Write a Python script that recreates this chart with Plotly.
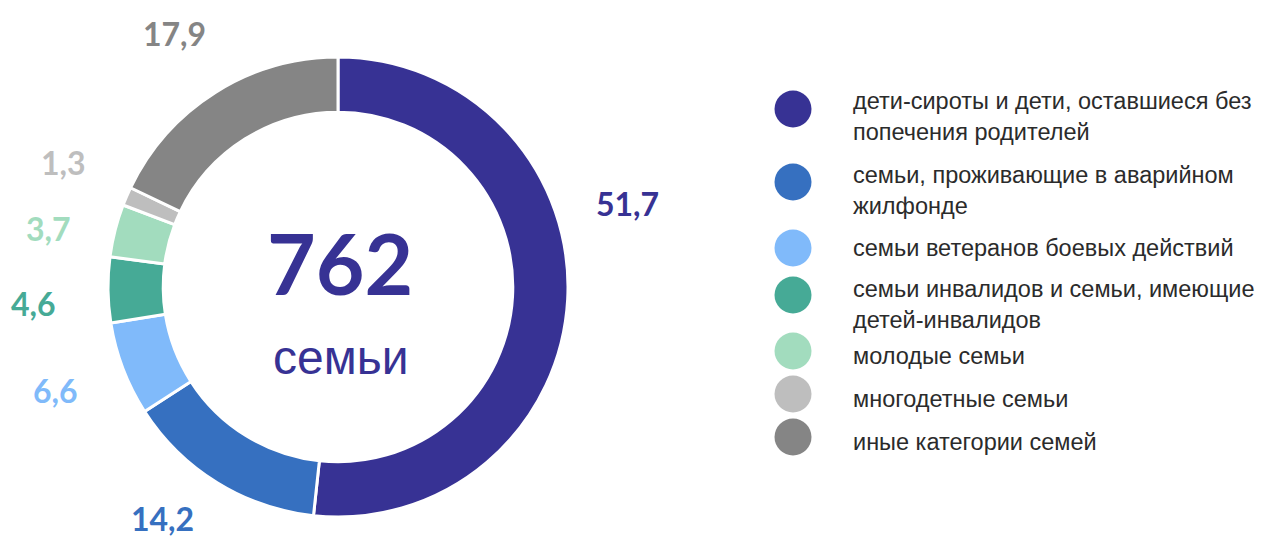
import plotly.graph_objects as go

W, H = 1264, 541

categories = [
    "дети-сироты и дети, оставшиеся без<br>попечения родителей",
    "семьи, проживающие в аварийном<br>жилфонде",
    "семьи ветеранов боевых действий",
    "семьи инвалидов и семьи, имеющие<br>детей-инвалидов",
    "молодые семьи",
    "многодетные семьи",
    "иные категории семей",
]
shares = [51.7, 14.2, 6.6, 4.6, 3.7, 1.3, 17.9]
total_families = 762
center_unit = "семьи"

colors = ["#373294", "#3670C0", "#80BAFA", "#46AA96", "#A2DCBE", "#BEBEBE", "#858585"]

# label positions (pixels) for value labels
label_pos = [(627, 203), (162, 518), (55, 390), (33, 303), (48, 228), (63, 162), (174, 33)]
# legend rows: circle center y, text center y
legend_circle_y = [109, 182, 248, 295, 351, 394, 437]
legend_text_y = [117, 190, 248, 304, 356, 399, 442]
legend_circle_x = 793
legend_text_x = 851
circle_d = 37


def px(x):
    return x / W


def py(y):
    return 1 - y / H


fig = go.Figure()
fig.add_trace(go.Pie(
    labels=[c.replace("<br>", " ") for c in categories],
    values=shares,
    sort=False,
    direction="clockwise",
    rotation=0,
    hole=0.76,
    marker=dict(colors=colors, line=dict(color="white", width=3)),
    textinfo="none",
    hoverinfo="label+value",
    showlegend=False,
    domain=dict(x=[px(108), px(568)], y=[py(517), py(57)]),
))

annotations = []
for v, c, (x, y) in zip(shares, colors, label_pos):
    annotations.append(dict(
        x=px(x), y=py(y), xref="paper", yref="paper", showarrow=False,
        text=f"<b>{v:.1f}</b>".replace(".", ","),
        font=dict(family="Lato", size=32, color=c),
        xanchor="center", yanchor="middle", borderpad=0,
    ))

annotations.append(dict(
    x=px(340), y=py(263), xref="paper", yref="paper", showarrow=False,
    text=f"<b>{total_families}</b>",
    font=dict(family="Lato", size=84, color="#373294"),
    xanchor="center", yanchor="middle",
))
annotations.append(dict(
    x=px(341), y=py(357), xref="paper", yref="paper", showarrow=False,
    text=center_unit,
    font=dict(family="Liberation Sans", size=48, color="#373294"),
    xanchor="center", yanchor="middle",
))

shapes = []
for cat, c, cy, ty in zip(categories, colors, legend_circle_y, legend_text_y):
    r = circle_d / 2
    shapes.append(dict(
        type="circle", xref="paper", yref="paper",
        x0=px(legend_circle_x - r), x1=px(legend_circle_x + r),
        y0=py(cy + r), y1=py(cy - r),
        fillcolor=c, line=dict(width=0),
    ))
    annotations.append(dict(
        x=px(legend_text_x), y=py(ty), xref="paper", yref="paper", showarrow=False,
        text=cat, align="left",
        font=dict(family="Liberation Sans", size=23.5, color="#2b2b2b"),
        xanchor="left", yanchor="middle",
    ))

fig.update_layout(
    width=W, height=H,
    margin=dict(l=0, r=0, t=0, b=0),
    paper_bgcolor="white", plot_bgcolor="white",
    annotations=annotations, shapes=shapes,
    showlegend=False,
)

fig.write_html("out.html")
